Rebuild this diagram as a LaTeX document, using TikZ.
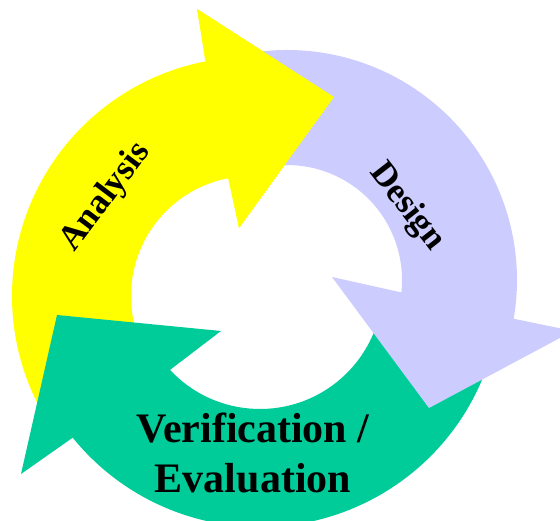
\documentclass[tikz,border=0pt]{standalone}
\usepackage{fontspec}
\setmainfont{Liberation Serif}
\usetikzlibrary{calc}
\definecolor{anayellow}{HTML}{FFFF00}
\definecolor{deslilac}{HTML}{CCCCFF}
\definecolor{vergreen}{HTML}{00CC99}
\begin{document}
\begin{tikzpicture}[x=1pt, y=1pt,
every node/.style={inner sep=0pt, font=\bfseries\fontsize{35}{42}\selectfont},
big text/.style={font=\bfseries\fontsize{42}{50}\selectfont, align=center}]
\useasboundingbox (0,0) rectangle (560,521);
\clip (0,0) rectangle (560,521);
\coordinate (yc) at (251,225);
\coordinate (ywing out) at (197,512);
\coordinate (ytip) at (334,424);
\coordinate (ywing in) at (239,293);
\coordinate (dc) at (287,241);
\coordinate (dwing out) at (573,190);
\coordinate (dtip) at (429,113);
\coordinate (dwing in) at (332,244);
\coordinate (vc) at (260,235);
\coordinate (vwing out) at (21,47);
\coordinate (vtip) at (57,206);
\coordinate (vwing in) at (221,190);
\fill [anayellow] ($(yc)+(210:239)$) arc [start angle=210, end angle=101, radius=239]
  -- (ywing out) -- (ytip) -- (ywing in)
  -- ($(yc)+(101:120)$) arc [start angle=101, end angle=210, radius=120] -- cycle;
\fill [vergreen] ($(vc)+(-15:241)$) arc [start angle=-15, end angle=-141, radius=241]
  -- (vwing out) -- (vtip) -- (vwing in)
  -- ($(vc)+(-137:123)$) arc [start angle=-137, end angle=-15, radius=123] -- cycle;
\fill [deslilac] ($(dc)+(100:230)$) arc [start angle=100, end angle=-9.7, radius=230]
  -- (dwing out) -- (dtip) -- (dwing in)
  -- ($(dc)+(-6.2:115)$) arc [start angle=-6.2, end angle=100, radius=115] -- cycle;
\fill [anayellow] (ywing out) -- (ytip) -- (ywing in) -- cycle;
\node [rotate=53] (analysis) at (106,324) {Analysis};
\node [rotate=-52] (design) at (407,314) {Design};
\node [big text, anchor=base] (verif) at (253,28) {Verification /\\Evaluation};
\end{tikzpicture}
\end{document}
